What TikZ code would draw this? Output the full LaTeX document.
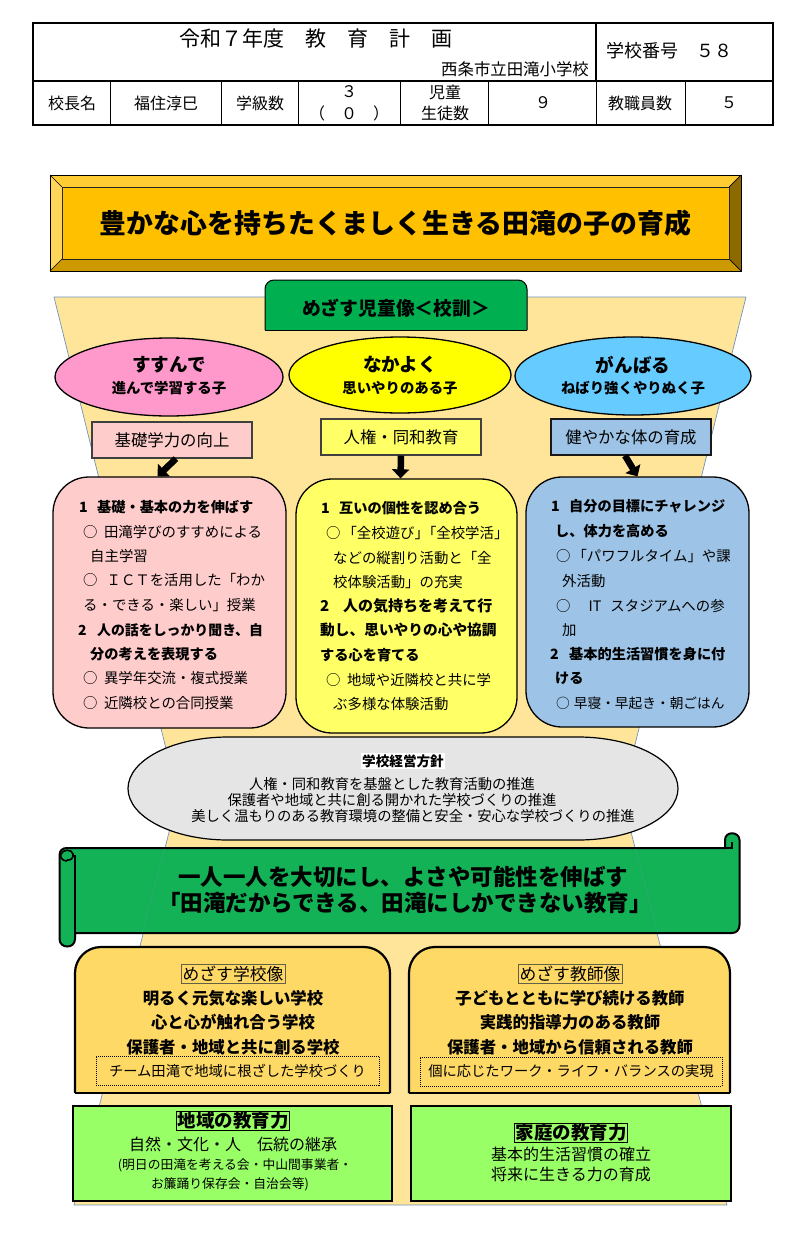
\documentclass[tikz,border=0pt]{standalone}
\usepackage{fontspec}
\setmainfont{Noto Sans CJK JP}
\usetikzlibrary{shapes.geometric,arrows.meta}
\definecolor{cream}{HTML}{FFE599}
\definecolor{goldmain}{HTML}{FFC000}
\definecolor{leafgreen}{HTML}{00B050}
\definecolor{scrollgreen}{HTML}{14B257}
\definecolor{pinkcard}{HTML}{FFCCCC}
\definecolor{lemoncard}{HTML}{FFFF66}
\definecolor{bluecard}{HTML}{9DC3E6}
\definecolor{sandcard}{HTML}{FFD966}
\definecolor{limebox}{HTML}{99FF66}
\definecolor{ovalpink}{HTML}{FF99CC}
\definecolor{ovalyellow}{HTML}{FFFF00}
\definecolor{ovalblue}{HTML}{66CCFF}
\definecolor{edgeblue}{HTML}{6F94BF}
\newcommand{\fsz}[1]{\fontsize{#1}{#1}\selectfont}
\newcommand{\mk}{○\hspace{6.5pt}}
\newcommand{\numa}{\makebox[18pt][l]{1}}
\newcommand{\numb}{\makebox[19pt][l]{2}}
\tikzset{
  cell/.style={inner sep=0pt,font=\fsz{16}},
  txt/.style={inner sep=0pt,anchor=west,font=\fsz{14.4}},
  txtb/.style={inner sep=0pt,anchor=west,font=\fsz{14.2}\bfseries},
  mid/.style={inner sep=0pt,font=\fsz{#1}},
  midb/.style={inner sep=0pt,font=\fsz{#1}\bfseries},
  label box/.style={draw=black!75,line width=1.2pt,minimum width=160pt,minimum height=36pt,inner sep=0pt,font=\fsz{16.4}},
  card/.style={draw=black,line width=1.3pt,rounded corners=36pt,inner sep=0pt},
  oval/.style={ellipse,draw=black,line width=1.3pt,inner sep=0pt},
  fat arrow/.style={line width=6.5pt,-{Triangle[length=9pt,width=17pt]}},
  tag/.style={draw=black!70!yellow,line width=.8pt,inner sep=1.5pt,font=\fsz{16.8}},
  limetag/.style={draw=black,line width=.8pt,inner sep=1pt,font=\fsz{18.5}\bfseries},
  dotbox/.style={draw=black,densely dotted,line width=1pt,inner sep=0pt,font=\fsz{14.3}},
  limecard/.style={draw=black,line width=2.4pt,fill=limebox,inner sep=0pt}
}

\begin{document}
\begin{tikzpicture}[x=1pt,y=-1pt]
  \useasboundingbox (0,0) rectangle (800,1234);

  % header table
  \draw [line width=2.6pt](33,23) rectangle (773,125);
  \draw [line width=1.2pt](33,81) -- (773,81);
  \draw [line width=1.2pt](596,23) -- (596,81);
  \draw [line width=1pt](110,81) -- (110,125);
  \draw [line width=1pt](221,81) -- (221,125);
  \draw [line width=1pt](298,81) -- (298,125);
  \draw [line width=1pt](400,81) -- (400,125);
  \draw [line width=1pt](488,81) -- (488,125);
  \draw [line width=1pt](596,81) -- (596,125);
  \draw [line width=1pt](685,81) -- (685,125);

  \node[mid=21] at(316,39)(plan){令和７年度　教　育　計　画};
  \node[mid=16.4] at(515,69)(school){西条市立田滝小学校};
  \node[mid=18] at(669,51)(number){学校番号　５８};
  \node[cell] at(72,103)(principal){校長名};
  \node[cell] at(166,103)(name){福住淳巳};
  \node[cell] at(260,103)(classes){学級数};
  \node[cell] at(349,92)(classthree){３};
  \node[cell] at(349,113)(classzero){（　０　）};
  \node[cell] at(445,92)(pupila){児童};
  \node[cell] at(445,113)(pupilb){生徒数};
  \node[cell] at(543,103)(pupilnum){９};
  \node[cell] at(640,103)(staff){教職員数};
  \node[cell] at(729,103)(staffnum){５};

  % bevel banner
  \fill[goldmain!80!white] (50,175) -- (741,175) -- (729,187) -- (62,187) -- cycle;
  \fill[goldmain!65!white] (50,175) -- (62,187) -- (62,259) -- (50,271) -- cycle;
  \fill[goldmain!80!black] (50,271) -- (62,259) -- (729,259) -- (741,271) -- cycle;
  \fill[goldmain!55!black] (741,175) -- (729,187) -- (729,259) -- (741,271) -- cycle;
  \draw [line width=1pt](50,175) rectangle (741,271);
  \draw [line width=.7pt](50,175) -- (62,187);
  \draw [line width=.7pt](741,175) -- (729,187);
  \draw [line width=.7pt](50,271) -- (62,259);
  \draw [line width=.7pt](741,271) -- (729,259);
  \node[draw=black!85,line width=.8pt,fill=goldmain,minimum width=667pt,minimum height=72pt,inner sep=0pt,font=\fsz{26.9}\bfseries] at(395.5,223)(goal){豊かな心を持ちたくましく生きる田滝の子の育成};

  % hourglass background
  \draw [fill=cream,draw=edgeblue,line width=.7pt](54,297) -- (746,297) -- (622,797) -- (727,1205) -- (74,1205) -- (178,797) -- cycle;

  \draw [fill=leafgreen,line width=1pt,rounded corners=9pt](265,330) -- (265,280) -- (527,280) -- (527,330);
  \draw [line width=1pt](265,330) -- (527,330);
  \node[midb=18.8] at(396,308)(ideal){めざす児童像＜校訓＞};

  % three ovals
  \node[oval,fill=ovalpink,minimum width=228pt,minimum height=78pt] at(169,377)(susumu){};
  \node[oval,fill=ovalyellow,minimum width=222pt,minimum height=76pt] at(400,375)(nakayoku){};
  \node[oval,fill=ovalblue,minimum width=236pt,minimum height=78pt] at(633,376)(ganbaru){};
  \node[midb=18.6] at(169,365)(susumua){すすんで};
  \node[midb=14.4] at(169,388)(susumub){進んで学習する子};
  \node[midb=18.6] at(400,365)(nakayokua){なかよく};
  \node[midb=14.4] at(400,388)(nakayokub){思いやりのある子};
  \node[midb=18.6] at(633,365)(ganbarua){がんばる};
  \node[midb=14.4] at(633,388)(ganbarub){ねばり強くやりぬく子};

  \node[label box,fill=pinkcard] at(172,440)(kiso){基礎学力の向上};
  \node[label box,fill=lemoncard] at(401,437)(jinken){人権・同和教育};
  \node[label box,fill=bluecard,draw=black!90] at(631,437)(karada){健やかな体の育成};

  % three cards
  \node[card,fill=pinkcard,minimum width=233pt,minimum height=251pt] at(169.5,602.5)(kisocard){};
  \node[card,fill=lemoncard,minimum width=221pt,minimum height=254pt] at(406.5,606)(jinkencard){};
  \node[card,fill=bluecard,minimum width=223pt,minimum height=250pt] at(637.5,602)(karadacard){};

  \draw [fat arrow]([xshift=4pt]kiso.south) -- ([xshift=-12pt]kisocard.north);
  \draw [fat arrow](jinken.south) -- ([xshift=-6pt]jinkencard.north);
  \draw [fat arrow]([xshift=-6pt]karada.south) -- ([xshift=0pt]karadacard.north);

  \node[txtb] at(79,507)(kisoa){\numa 基礎・基本の力を伸ばす};
  \node[txt] at(83,532)(kisob){\mk 田滝学びのすすめによる};
  \node[txt] at(90,556)(kisoc){自主学習};
  \node[txt] at(83,580)(kisod){○\hspace{9pt}ＩＣＴを活用した「わか};
  \node[txt] at(83,605)(kisoe){る・できる・楽しい」授業};
  \node[txtb,font=\fsz{13.9}\bfseries] at(78,630)(kisof){\numb 人の話をしっかり聞き、自};
  \node[txtb] at(90,654)(kisog){分の考えを表現する};
  \node[txt] at(83,678)(kisoh){\mk 異学年交流・複式授業};
  \node[txt] at(83,703)(kisoi){\mk 近隣校との合同授業};

  \node[txtb] at(321,508)(jinkena){\numa 互いの個性を認め合う};
  \node[txt] at(326,533)(jinkenb){○\hspace{2pt}「全校遊び」\hspace{-7pt}「全校学活」};
  \node[txt] at(333,558)(jinkenc){などの縦割り活動と「全};
  \node[txt] at(333,582)(jinkend){校体験活動」の充実};
  \node[txtb,font=\fsz{15}\bfseries] at(320,606)(jinkene){\makebox[23pt][l]{2}人の気持ちを考えて行};
  \node[txtb,font=\fsz{14.7}\bfseries] at(320,630)(jinkenf){動し、思いやりの心や協調};
  \node[txtb] at(320,655)(jinkeng){する心を育てる};
  \node[txt] at(326,680)(jinkenh){\mk 地域や近隣校と共に学};
  \node[txt] at(333,704)(jinkeni){ぶ多様な体験活動};

  \node[txtb] at(551,506)(karadaa){\numa 自分の目標にチャレンジ};
  \node[txtb] at(555,531)(karadab){し、体力を高める};
  \node[txt] at(556,556)(karadac){○\hspace{2pt}「パワフルタイム」や課};
  \node[txt] at(562,581)(karadad){外活動};
  \node[txt] at(556,606)(karadae){○\hspace{18pt}IT\hspace{9pt}スタジアムへの参};
  \node[txt] at(562,630)(karadaf){加};
  \node[txtb] at(550,654)(karadag){\numb 基本的生活習慣を身に付};
  \node[txtb] at(555,678)(karadah){ける};
  \node[txt,font=\fsz{13.7}] at(556,703)(karadai){○\hspace{4pt}早寝・早起き・朝ごはん};

  % policy capsule
  \draw [fill=black!10,line width=1.2pt](228,737) -- (578,737)
    .. controls (633,737) and (678,760) .. (678,788.5)
    .. controls (678,817) and (633,840) .. (578,840) -- (228,840)
    .. controls (173,840) and (128,817) .. (128,788.5)
    .. controls (128,760) and (173,737) .. (228,737) -- cycle;
  \node[midb=13.6,fill=white,inner sep=1pt] at(403,761)(policy){学校経営方針};
  \node[mid=14.3] at(392,784)(policya){人権・同和教育を基盤とした教育活動の推進};
  \node[mid=14.3] at(392,800)(policyb){保護者や地域と共に創る開かれた学校づくりの推進};
  \node[mid=14.3] at(413,816)(policyc){美しく温もりのある教育環境の整備と安全・安心な学校づくりの推進};

  % scroll
  \draw [fill=scrollgreen,line width=2pt](67,848) -- (725,848) -- (725,840)
    .. controls (725,831) and (739,831) .. (739.5,840) -- (739.5,925)
    .. controls (739.5,930) and (736,933) .. (732,933) -- (75,933) -- (75,939)
    .. controls (75,949) and (59.5,949) .. (59.5,939) -- (59.5,855)
    .. controls (59.5,850) and (63,848) .. (67,848) -- cycle;
  \draw [line width=1.6pt](67,861)
    .. controls (62,861) and (60,857) .. (61,854)
    .. controls (63,849) and (72,849) .. (73,854)
    .. controls (74,857) and (71,861) .. (67,860);
  \draw [line width=1.6pt](75,855) -- (75,933);
  \draw [line width=1.4pt](725,848) -- (732,848) -- (732,842);
  \draw [draw=edgeblue,line width=.4pt,opacity=.35](165,848) -- (142,933);
  \draw [draw=edgeblue,line width=.4pt,opacity=.35](635,848) -- (658,933);
  \node[midb=22.5] at(403,877)(motto){一人一人を大切にし、よさや可能性を伸ばす};
  \node[midb=22.5] at(405,903)(mottob){「田滝だからできる、田滝にしかできない教育」};

  % school and teacher cards
  \draw [fill=sandcard,line width=2.2pt,rounded corners=26pt](75,1093) -- (75,947) -- (390,947) -- (390,1093);
  \draw [line width=2.2pt](75,1093) -- (390,1093);
  \draw [fill=sandcard,line width=2.2pt,rounded corners=26pt](409,1093) -- (409,947) -- (730,947) -- (730,1093);
  \draw [line width=2.2pt](409,1093) -- (730,1093);

  \node[tag] at(233,974)(schoolimg){めざす学校像};
  \node[midb=16.4] at(233,998)(schoola){明るく元気な楽しい学校};
  \node[midb=16.4] at(233,1022)(schoolb){心と心が触れ合う学校};
  \node[midb=16.4] at(233,1047)(schoolc){保護者・地域と共に創る学校};
  \node[dotbox,minimum width=283pt,minimum height=29pt] at(237.5,1070.5)(schoold){チーム田滝で地域に根ざした学校づくり};

  \node[tag] at(570,974)(teacherimg){めざす教師像};
  \node[midb=16.4] at(570,998)(teachera){子どもとともに学び続ける教師};
  \node[midb=16.4] at(570,1022)(teacherb){実践的指導力のある教師};
  \node[midb=16.4] at(570,1047)(teacherc){保護者・地域から信頼される教師};
  \node[dotbox,minimum width=302pt,minimum height=29pt] at(571,1071.5)(teacherd){個に応じたワーク・ライフ・バランスの実現};

  % bottom boxes
  \node[limecard,minimum width=319pt,minimum height=95pt] at(232.5,1153.5)(region){};
  \node[limecard,minimum width=320pt,minimum height=95pt] at(571,1153.5)(home){};

  \node[limetag] at(233,1121)(regiona){地域の教育力};
  \node[mid=16] at(233,1144)(regionb){自然・文化・人　伝統の継承};
  \node[mid=12.8] at(235,1165)(regionc){(明日の田滝を考える会・中山間事業者・};
  \node[mid=12.8] at(230,1184)(regiond){お簾踊り保存会・自治会等)};

  \node[limetag] at(571,1133)(homea){家庭の教育力};
  \node[mid=16] at(571,1154)(homeb){基本的生活習慣の確立};
  \node[mid=16] at(571,1174)(homec){将来に生きる力の育成};

\end{tikzpicture}
\end{document}
